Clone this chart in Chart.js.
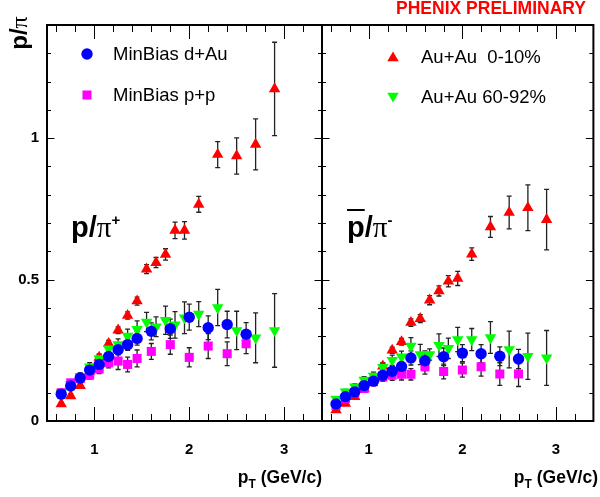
<!DOCTYPE html>
<html><head><meta charset="utf-8">
<script src="https://cdn.jsdelivr.net/npm/chart.js@4.4.1/dist/chart.umd.min.js"></script>
<style>
html,body{margin:0;padding:0;background:#fff;}
#wrap{position:relative;width:600px;height:497px;overflow:hidden;font-family:"Liberation Sans",Arial,sans-serif;color:#000;}
canvas{position:absolute;left:0;top:0;}
.t{position:absolute;white-space:pre;line-height:1;}
.b{font-weight:bold;}
.sym{font-family:"Liberation Serif","DejaVu Serif",serif;font-weight:normal;}
</style></head><body>
<div id="wrap">
<canvas id="cL" width="600" height="497"></canvas>
<canvas id="cR" width="600" height="497"></canvas>

<div class="t b" style="right:14px;top:9px;transform:translateY(-50%);font-size:17.5px;color:#f00;">PHENIX PRELIMINARY</div>

<div class="t b" style="left:19px;top:33px;transform:translate(-50%,-50%) rotate(-90deg);font-size:24px;">p/<span class="sym">π</span></div>

<div class="t" id="lg0" style="left:113px;top:54px;transform:translateY(-50%);font-size:18.5px;"></div>
<div class="t" id="lg1" style="left:113px;top:95px;transform:translateY(-50%);font-size:18.5px;"></div>
<div class="t" id="lg2" style="left:421px;top:57px;transform:translateY(-50%);font-size:18.5px;"></div>
<div class="t" id="lg3" style="left:421px;top:97px;transform:translateY(-50%);font-size:18.5px;"></div>

<div class="t b" style="left:71px;top:213px;font-size:29px;">p/<span class="sym">π</span><span style="position:relative;top:-12px;font-size:15px;">+</span></div>
<div class="t b" style="left:347px;top:213px;font-size:29px;"><span style="text-decoration:overline;">p</span>/<span class="sym">π</span><span style="position:relative;top:-12px;font-size:15px;">-</span></div>

<div class="t b" style="right:278px;top:484px;transform:translateY(-85%);font-size:17.5px;">p<span style="position:relative;top:5px;font-size:12px;">T</span> (GeV/c)</div>
<div class="t b" style="right:2px;top:484px;transform:translateY(-85%);font-size:17.5px;">p<span style="position:relative;top:5px;font-size:12px;">T</span> (GeV/c)</div>
</div>

<script>
// ---------------- data ----------------
const xMinBias = [0.65,0.75,0.85,0.95,1.05,1.15,1.25,1.35,1.45,1.6,1.8,2.0,2.2,2.4,2.6];
const xAuAu    = [0.65,0.75,0.85,0.95,1.05,1.15,1.25,1.35,1.45,1.55,1.65,1.75,1.85,1.95,2.1,2.3,2.5,2.7,2.9];

// p/pi+ (left panel)
const dAuPos      = [0.095,0.124,0.152,0.18,0.20,0.228,0.252,0.27,0.292,0.317,0.326,0.367,0.33,0.341,0.307];
const dAuPosErr   = [0.01,0.01,0.01,0.012,0.012,0.015,0.018,0.02,0.024,0.03,0.034,0.046,0.042,0.047,0.041];
const ppPos       = [0.10,0.135,0.15,0.162,0.184,0.206,0.212,0.20,0.221,0.246,0.27,0.225,0.265,0.238,0.273];
const ppPosErr    = [0.01,0.01,0.012,0.014,0.016,0.018,0.03,0.026,0.03,0.028,0.034,0.034,0.044,0.042,0.035];
const auCentPos   = [0.06,0.089,0.125,0.175,0.225,0.274,0.321,0.373,0.424,0.537,0.56,0.589,0.674,0.674,0.766,0.942,0.937,0.978,1.174];
const auCentPosErr= [0.006,0.007,0.008,0.009,0.01,0.011,0.012,0.013,0.014,0.016,0.018,0.02,0.029,0.031,0.028,0.046,0.064,0.09,0.165];
const auPeriPos   = [0.10,0.13,0.158,0.192,0.221,0.255,0.27,0.30,0.324,0.35,0.333,0.356,0.34,0.365,0.378,0.401,0.32,0.294,0.32];
const auPeriPosErr= [0.01,0.01,0.012,0.014,0.016,0.018,0.02,0.025,0.03,0.034,0.035,0.05,0.047,0.056,0.044,0.064,0.068,0.088,0.13];

// pbar/pi- (right panel)
const dAuNeg      = [0.06,0.086,0.103,0.125,0.141,0.162,0.176,0.193,0.223,0.213,0.227,0.24,0.238,0.229,0.219];
const dAuNegErr   = [0.008,0.008,0.009,0.01,0.011,0.012,0.014,0.016,0.025,0.035,0.031,0.03,0.032,0.033,0.034];
const ppNeg       = [0.055,0.08,0.10,0.115,0.139,0.156,0.162,0.165,0.165,0.192,0.175,0.18,0.192,0.166,0.166];
const ppNegErr    = [0.008,0.008,0.01,0.012,0.014,0.016,0.018,0.02,0.02,0.026,0.026,0.025,0.033,0.04,0.044];
const auCentNeg   = [0.039,0.062,0.086,0.115,0.15,0.194,0.25,0.28,0.348,0.362,0.427,0.46,0.494,0.504,0.59,0.686,0.737,0.754,0.712];
const auCentNegErr= [0.005,0.006,0.007,0.008,0.009,0.01,0.011,0.012,0.013,0.014,0.016,0.018,0.02,0.025,0.022,0.037,0.058,0.081,0.107];
const auPeriNeg   = [0.078,0.103,0.121,0.145,0.159,0.19,0.215,0.227,0.265,0.235,0.235,0.268,0.257,0.288,0.288,0.295,0.253,0.229,0.223];
const auPeriNegErr= [0.008,0.009,0.01,0.012,0.014,0.016,0.018,0.02,0.03,0.036,0.02,0.04,0.036,0.043,0.039,0.056,0.065,0.082,0.097];

const seriesLabels = ['MinBias d+Au','MinBias p+p','Au+Au  0-10%','Au+Au 60-92%'];
const xTickValues = [1,2,3];
const xTickLabels = ['1','2','3'];
const yTickValues = [0,0.5,1];
const yTickLabels = ['0','0.5','1'];

// ---------------- chart ----------------
seriesLabels.forEach((s,i)=>{ document.getElementById('lg'+i).textContent = s; });

const COLORS = ['#0000ff','#ff00ff','#ff0000','#00ff00'];
const STYLES = [
  {pointStyle:'circle', rotation:0, radius:5.7},
  {pointStyle:'rect', rotation:0, radius:6.4},
  {pointStyle:'triangle', rotation:0, radius:6.6},
  {pointStyle:'triangle', rotation:180, radius:6.6}
];

function ds(idx, xs, ys, errs) {
  const st = STYLES[idx];
  return {
    label: seriesLabels[idx],
    data: xs.map((x,i)=>({x:x, y:ys[i]})),
    errors: errs,
    pointStyle: st.pointStyle, pointRotation: st.rotation,
    pointRadius: st.radius, pointHoverRadius: st.radius,
    pointBackgroundColor: COLORS[idx], pointBorderColor: COLORS[idx],
    pointBorderWidth: 0, showLine: false
  };
}

const errPlugin = {
  id: 'errbars',
  beforeDatasetsDraw(chart) {
    const ctx = chart.ctx, xs = chart.scales.x, ys = chart.scales.y;
    ctx.save();
    ctx.strokeStyle = '#222'; ctx.lineWidth = 1.3;
    for (let d = chart.data.datasets.length - 1; d >= 0; d--) {
      const set = chart.data.datasets[d];
      set.data.forEach((p, i) => {
        const e = set.errors[i];
        const px = xs.getPixelForValue(p.x);
        const y1 = ys.getPixelForValue(p.y - e), y2 = ys.getPixelForValue(p.y + e);
        ctx.beginPath();
        ctx.moveTo(px, y1); ctx.lineTo(px, y2);
        ctx.moveTo(px-2.5, y1); ctx.lineTo(px+2.5, y1);
        ctx.moveTo(px-2.5, y2); ctx.lineTo(px+2.5, y2);
        ctx.stroke();
      });
    }
    ctx.restore();
  }
};

const framePlugin = {
  id: 'frame',
  afterDraw(chart, args, opts) {
    const ctx = chart.ctx, a = chart.chartArea, xs = chart.scales.x, ys = chart.scales.y;
    ctx.save();
    ctx.strokeStyle = '#000'; ctx.lineWidth = 1;
    ctx.beginPath();
    for (let k = 6; k < 34; k += 2) {
      const px = Math.round(xs.getPixelForValue(k/10)) + 0.5;
      const L = (k % 10 === 0) ? 14 : 7;
      ctx.moveTo(px, a.bottom); ctx.lineTo(px, a.bottom - L);
      ctx.moveTo(px, a.top); ctx.lineTo(px, a.top + L);
    }
    for (let k = 1; k < 14; k++) {
      const py = Math.round(ys.getPixelForValue(k/10)) + 0.5;
      const L = (k % 5 === 0) ? 7.5 : 4;
      ctx.moveTo(a.left, py); ctx.lineTo(a.left + L, py);
      ctx.moveTo(a.right, py); ctx.lineTo(a.right - L, py);
    }
    ctx.stroke();
    ctx.lineWidth = 2;
    ctx.strokeRect(a.left, a.top, a.right - a.left, a.bottom - a.top);
    (opts.legend || []).forEach(L => {
      const st = STYLES[L.idx];
      ctx.fillStyle = COLORS[L.idx];
      Chart.helpers.drawPoint(ctx, {pointStyle: st.pointStyle, rotation: st.rotation, radius: st.radius, borderWidth: 0}, L.x, L.y);
    });
    ctx.restore();
  }
};

function makeChart(id, left, datasets, legend) {
  return new Chart(document.getElementById(id), {
    type: 'scatter',
    data: { datasets: datasets },
    options: {
      responsive: false, animation: false, devicePixelRatio: 1,
      layout: { padding: left ? {left:0, right:278, top:25, bottom:0} : {left:322, right:2, top:25, bottom:0} },
      plugins: { legend: {display:false}, tooltip: {enabled:false}, frame: {legend: legend} },
      events: [],
      scales: {
        x: {
          type: 'linear', min: 0.5, max: 3.4,
          afterBuildTicks: s => { s.ticks = xTickValues.map(v => ({value: v})); },
          afterFit: s => { s.height = 76; },
          grid: {display: false, drawTicks: false},
          border: {display: false},
          ticks: {
            padding: 20, autoSkip: false, maxRotation: 0, color: '#000',
            font: {family: 'Liberation Sans', weight: 'bold', size: 15},
            callback: (v, i) => xTickLabels[i]
          }
        },
        y: {
          type: 'linear', min: 0, max: 1.4, display: left,
          afterBuildTicks: s => { s.ticks = yTickValues.map(v => ({value: v})); },
          afterFit: s => { s.width = left ? 47 : 0; },
          grid: {display: false, drawTicks: false},
          border: {display: false},
          ticks: {
            padding: 8, color: '#000',
            font: {family: 'Liberation Sans', weight: 'bold', size: 15},
            callback: (v, i) => yTickLabels[i]
          }
        }
      }
    },
    plugins: [errPlugin, framePlugin]
  });
}

makeChart('cL', true, [
  ds(0, xMinBias, dAuPos, dAuPosErr),
  ds(1, xMinBias, ppPos, ppPosErr),
  ds(3, xAuAu, auPeriPos, auPeriPosErr),
  ds(2, xAuAu, auCentPos, auCentPosErr)
], [{idx:0, x:87, y:54}, {idx:1, x:87, y:95}]);

makeChart('cR', false, [
  ds(0, xMinBias, dAuNeg, dAuNegErr),
  ds(1, xMinBias, ppNeg, ppNegErr),
  ds(3, xAuAu, auPeriNeg, auPeriNegErr),
  ds(2, xAuAu, auCentNeg, auCentNegErr)
], [{idx:2, x:393, y:58}, {idx:3, x:393, y:96}]);
</script>
</body></html>
